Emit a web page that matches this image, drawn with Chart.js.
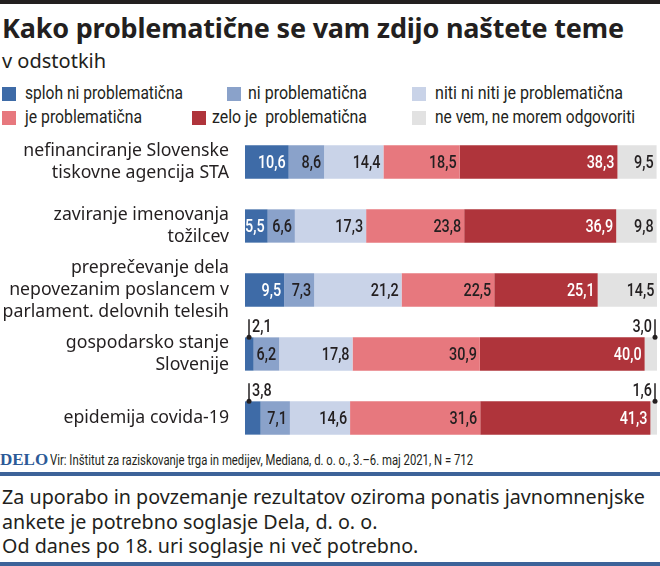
<!DOCTYPE html>
<html>
<head>
<meta charset="utf-8">
<script src="https://cdn.jsdelivr.net/npm/chart.js@4.4.1/dist/chart.umd.min.js"></script>
<style>
  body { margin: 0; background: #fff; width: 660px; height: 566px; position: relative; overflow: hidden; color: #231f20; }
  .topbar { position: absolute; left: 0; top: 0; width: 660px; height: 4px; background: #231f20; }
  .title { position: absolute; left: 2px; top: 9px; font: 700 27px "Noto Sans", sans-serif; white-space: nowrap; letter-spacing: -0.2px; }
  .sub { position: absolute; left: 2px; top: 47px; font: 400 20px "Noto Sans", sans-serif; }
  .fit { position: absolute; white-space: nowrap; transform-origin: 0 50%; }
  .legtx { font: 400 18px Roboto, sans-serif; line-height: 22px; }
  .sq { position: absolute; width: 14px; height: 14px; }
  #wrap { position: absolute; left: 0; top: 130px; width: 660px; height: 320px; }
  .delo { position: absolute; left: 0; top: 450px; font: 700 17px "Liberation Serif", serif; color: #2c5a97; }
  .src { font: 400 14px Roboto, sans-serif; line-height: 20px; }
  .line { position: absolute; left: 0; width: 660px; height: 4px; background: #3d6399; }
  .note { font: 400 19px "Noto Sans", sans-serif; line-height: 24.5px; }
</style>
</head>
<body>
<div class="topbar"></div>
<div class="title">Kako problematične se vam zdijo naštete teme</div>
<div class="sub">v odstotkih</div>
<div id="legend"></div>
<div id="wrap"><canvas id="myChart" width="660" height="320"></canvas></div>
<div class="delo">DELO</div>
<div class="fit src" data-w="423" style="left:50px;top:450px">Vir: Inštitut za raziskovanje trga in medijev, Mediana, d. o. o., 3.–6. maj 2021, N = 712</div>
<div class="line" style="top:472px"></div>
<div class="fit note" data-w="643" style="left:2px;top:485px">Za uporabo in povzemanje rezultatov oziroma ponatis javnomnenjske</div>
<div class="fit note" style="left:2px;top:509.5px">ankete je potrebno soglasje Dela, d. o. o.</div>
<div class="fit note" style="left:2px;top:534px">Od danes po 18. uri soglasje ni več potrebno.</div>
<div class="line" style="top:562px"></div>
<script>
const categories = [
  ['nefinanciranje Slovenske', 'tiskovne agencija STA'],
  ['zaviranje imenovanja', 'tožilcev'],
  ['preprečevanje dela', 'nepovezanim poslancem v', 'parlament. delovnih telesih'],
  ['gospodarsko stanje', 'Slovenije'],
  ['epidemija covida-19']
];
const seriesNames = ['sploh ni problematična', 'ni problematična', 'niti ni niti je problematična',
  'je problematična', 'zelo je  problematična', 'ne vem, ne morem odgovoriti'];
const splohNi = [10.6, 5.5, 9.5, 2.1, 3.8];
const niProblem = [8.6, 6.6, 7.3, 6.2, 7.1];
const nitiNiti = [14.4, 17.3, 21.2, 17.8, 14.6];
const jeProblem = [18.5, 23.8, 22.5, 30.9, 31.6];
const zeloJe = [38.3, 36.9, 25.1, 40.0, 41.3];
const neVem = [9.5, 9.8, 14.5, 3.0, 1.6];

const colors = ['#3e6ba7', '#8aa2ca', '#c9d3e8', '#e7787e', '#af343b', '#e2e2e2'];
const series = [splohNi, niProblem, nitiNiti, jeProblem, zeloJe, neVem];

// legend (html), square x, text x, row y, text width
const legPos = [[2, 25, 86, 158], [227, 248, 86, 119], [412, 435, 86, 188],
                [2, 25, 110, 117], [192, 212, 110, 155], [412, 435, 110, 200]];
const legend = document.getElementById('legend');
seriesNames.forEach((name, i) => {
  const p = legPos[i];
  legend.innerHTML += `<span class="sq" style="left:${p[0]}px;top:${p[2] + 1}px;background:${colors[i]}"></span>` +
    `<div class="fit legtx" data-w="${p[3]}" style="left:${p[1]}px;top:${p[2] - 4}px">${name.replace(/  /g, ' &nbsp;')}</div>`;
});

// squeeze texts to the widths of the original (condensed font is not available)
let noteScale = 1;
document.querySelectorAll('.fit').forEach(el => {
  const w = el.getBoundingClientRect().width;
  let s = el.dataset.w ? el.dataset.w / w : noteScale;
  if (el.classList.contains('note') && el.dataset.w) noteScale = s;
  el.style.transform = `scaleX(${s})`;
});

const fmt = v => v.toFixed(1).replace('.', ',');

function narrowText(ctx, text, x, y, align) {
  const squeeze = 0.8;
  const w = ctx.measureText(text).width * squeeze;
  const left = align === 'right' ? x - w : x;
  ctx.save();
  ctx.translate(left, y);
  ctx.scale(squeeze, 1);
  ctx.textAlign = 'left';
  ctx.fillText(text, 0, 0);
  ctx.restore();
}

const barLabels = {
  id: 'barLabels',
  afterDatasetsDraw(chart) {
    const ctx = chart.ctx;
    ctx.save();
    ctx.font = '500 18px Roboto, sans-serif';
    ctx.textBaseline = 'middle';
    chart.data.datasets.forEach((ds, di) => {
      chart.getDatasetMeta(di).data.forEach((bar, i) => {
        const v = ds.data[i];
        const top = bar.y - bar.height / 2;
        if (v < 4) {
          const lx = di === 0 ? bar.base + 4 : bar.x - 2;
          ctx.strokeStyle = '#231f20';
          ctx.fillStyle = '#231f20';
          ctx.lineWidth = 1.5;
          ctx.beginPath();
          ctx.moveTo(lx, top - 18);
          ctx.lineTo(lx, top);
          ctx.stroke();
          ctx.beginPath();
          ctx.arc(lx, top, 2.5, 0, Math.PI * 2);
          ctx.fill();
          narrowText(ctx, fmt(v), di === 0 ? lx + 3 : lx - 3, top - 10, di === 0 ? 'left' : 'right');
        } else {
          ctx.fillStyle = (di === 0 || di === 4) ? '#ffffff' : '#231f20';
          narrowText(ctx, fmt(v), bar.x - 3, bar.y + 1, 'right');
        }
      });
    });
    ctx.restore();
  }
};

const ctx = document.getElementById('myChart').getContext('2d');
const myChart = new Chart(ctx, {
  type: 'bar',
  data: {
    labels: categories,
    datasets: series.map((d, i) => ({
      label: seriesNames[i],
      data: d,
      backgroundColor: colors[i],
      borderWidth: 0,
      barPercentage: 1,
      categoryPercentage: 0.52
    }))
  },
  options: {
    indexAxis: 'y',
    responsive: false,
    animation: false,
    layout: { padding: { left: 0, right: 3, top: 0, bottom: 0 } },
    plugins: { legend: { display: false }, tooltip: { enabled: false } },
    scales: {
      x: { stacked: true, min: 0, max: 100, display: false },
      y: {
        stacked: true,
        grid: { display: false },
        border: { display: false },
        afterFit: scale => {
          scale.width = 245;
          scale.paddingTop = 0;
          scale.paddingBottom = 0;
        },
        ticks: {
          autoSkip: false,
          padding: 8,
          color: '#231f20',
          font: { family: '"Noto Sans", sans-serif', size: 17.7, lineHeight: 1.25 }
        }
      }
    }
  },
  plugins: [barLabels]
});
</script>
</body>
</html>
